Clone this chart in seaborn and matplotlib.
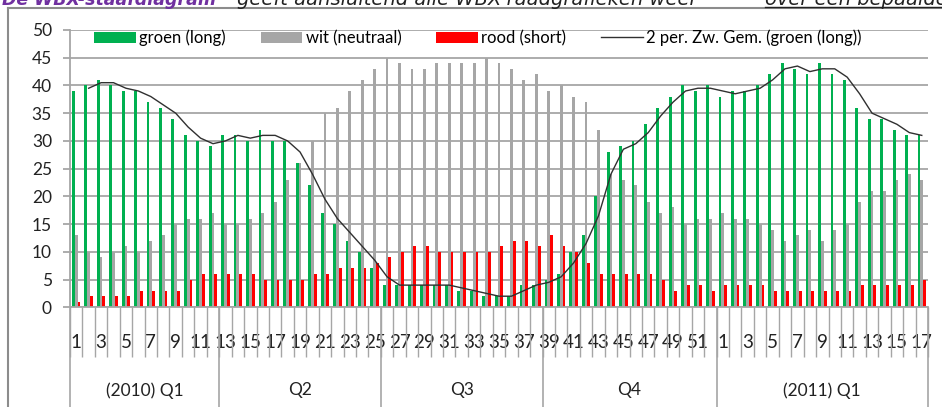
import numpy as np
import pandas as pd
import matplotlib
matplotlib.use('Agg')
import matplotlib.pyplot as plt
import seaborn as sns
from matplotlib.lines import Line2D

# week labels: 2010 weeks 1-52, 2011 weeks 1-17
weeks = [str(w) for w in range(1, 53)] + [str(w) for w in range(1, 18)]

groen = [39, 40, 41, 40, 39, 39, 37, 36, 34, 31, 30, 29,
         31, 31, 30, 32, 30, 30, 26, 22, 17, 15, 12, 10, 7,
         4, 4, 4, 4, 4, 4, 3, 3, 2, 2, 2, 4, 4,
         5, 6, 10, 13, 20, 28, 29, 30, 33, 36, 38, 40, 39, 40,
         38, 39, 39, 40, 42, 44, 43, 42, 44, 42, 41, 36, 34, 34, 32, 31, 31]
wit = [13, 10, 9, 10, 11, 10, 12, 13, 15, 16, 16, 17,
       15, 15, 16, 17, 19, 23, 26, 30, 35, 36, 39, 41, 43,
       45, 44, 43, 43, 44, 44, 44, 44, 45, 44, 43, 41, 42,
       39, 40, 38, 37, 32, 24, 23, 22, 19, 17, 18, 15, 16, 16,
       17, 16, 16, 15, 14, 12, 13, 14, 12, 14, 15, 19, 21, 21, 23, 24, 23]
rood = [1, 2, 2, 2, 2, 3, 3, 3, 3, 5, 6, 6,
        6, 6, 6, 5, 5, 5, 5, 6, 6, 7, 7, 7, 8,
        9, 10, 11, 11, 10, 10, 10, 10, 10, 11, 12, 12, 11,
        13, 11, 10, 8, 6, 6, 6, 6, 6, 5, 3, 4, 4, 3,
        4, 4, 4, 4, 3, 3, 3, 3, 3, 3, 3, 4, 4, 4, 4, 4, 5]

quarters = ['(2010) Q1', 'Q2', 'Q3', 'Q4', '(2011) Q1']
quarter_len = [12, 13, 13, 14, 17]

series_names = ['groen (long)', 'wit (neutraal)', 'rood (short)']
colors = ['#00B050', '#A6A6A6', '#FF0000']

n = len(weeks)
df = pd.DataFrame({
    'pos': list(range(n)) * 3,
    'waarde': groen + wit + rood,
    'serie': [series_names[0]] * n + [series_names[1]] * n + [series_names[2]] * n,
})
# 2 period moving average on the green series
gem = pd.Series(groen).rolling(2).mean()

plt.rcParams['font.family'] = ['Lato', 'DejaVu Sans']
grid_col = '#A6A6A6'

fig = plt.figure(figsize=(9.42, 4.07), dpi=100)
ax = fig.add_axes([70 / 942, 1 - 307.3 / 407, 858 / 942, 277.3 / 407])

sns.barplot(data=df, x='pos', y='waarde', hue='serie', palette=colors,
            hue_order=series_names, width=0.68, linewidth=0, saturation=1,
            legend=True, ax=ax)
ax.plot(range(n), gem, color='#303030', lw=1, label='2 per. Zw. Gem. (groen (long))')

ax.set_xlim(-0.5, n - 0.5)
ax.set_ylim(0, 50)
ax.set_yticks(range(0, 51, 5))
ax.yaxis.grid(True, color=grid_col, lw=1.3)
ax.set_axisbelow(True)
ax.set_xlabel('')
ax.set_ylabel('')
for s in ['top', 'right']:
    ax.spines[s].set_visible(False)
ax.spines['left'].set_color(grid_col)
ax.spines['bottom'].set_color(grid_col)
ax.spines['left'].set_linewidth(1.3)
ax.spines['bottom'].set_linewidth(1.3)

ax.tick_params(axis='y', length=5, width=1.3, color=grid_col, pad=8,
               labelsize=12.5, labelcolor='#222222')

# week labels on every other category, tick lines between categories
ax.set_xticks(range(n))
ax.set_xticklabels([w if i % 2 == 0 else '' for i, w in enumerate(weeks)])
ax.set_xticks(np.arange(-0.5, n, 1), minor=True)
ax.tick_params(axis='x', which='major', length=0, pad=19, labelsize=13.5,
               labelcolor='#222222')
ax.tick_params(axis='x', which='minor', length=36, width=1, color=grid_col)

# quarter grouping level
tr = ax.get_xaxis_transform()
bounds = np.concatenate([[-0.5], np.cumsum(quarter_len) - 0.5])
ax.vlines(bounds, -0.37, 0, transform=tr, clip_on=False, color=grid_col, lw=1.2)
for q, a, b in zip(quarters, bounds[:-1], bounds[1:]):
    ax.text((a + b) / 2, -0.30, q, transform=tr, ha='center', va='center',
            fontsize=12.5, color='#222222')

h, l = ax.get_legend_handles_labels()
ax.legend(h, l, ncol=4, loc='center left', bbox_to_anchor=(0.028, 0.972),
          frameon=False, fontsize=12, handlelength=2.5, handleheight=0.65,
          handletextpad=0.2, columnspacing=2.1, borderaxespad=0, borderpad=0)

# outer chart frame
fig.add_artist(Line2D([8 / 942, 8 / 942], [0, 1 - 8 / 407], transform=fig.transFigure,
                      color='#8C8C8C', lw=1.5))
fig.add_artist(Line2D([8 / 942, 1], [1 - 8 / 407, 1 - 8 / 407], transform=fig.transFigure,
                      color='#8C8C8C', lw=1.5))

# heading above the chart, cut off by the top edge as in the source
head = dict(fontstyle='italic', va='baseline', family='DejaVu Sans')
fig.text(2 / 942, 1 - 5 / 407, 'De WBX-staafdiagram', color='#7030A0',
         fontweight='bold', fontsize=12.5, **head)
fig.text(237 / 942, 1 - 5 / 407, 'geeft aansluitend alle WBX-raadgrafieken weer',
         color='#222222', fontsize=14, **head)
fig.text(765 / 942, 1 - 5 / 407, 'over een bepaalde', color='#222222',
         fontsize=14, **head)
fig.add_artist(Line2D([765 / 942, 1], [1 - 6.5 / 407, 1 - 6.5 / 407],
                      transform=fig.transFigure, color='#222222', lw=1))

fig.savefig('out.png', dpi=100)
